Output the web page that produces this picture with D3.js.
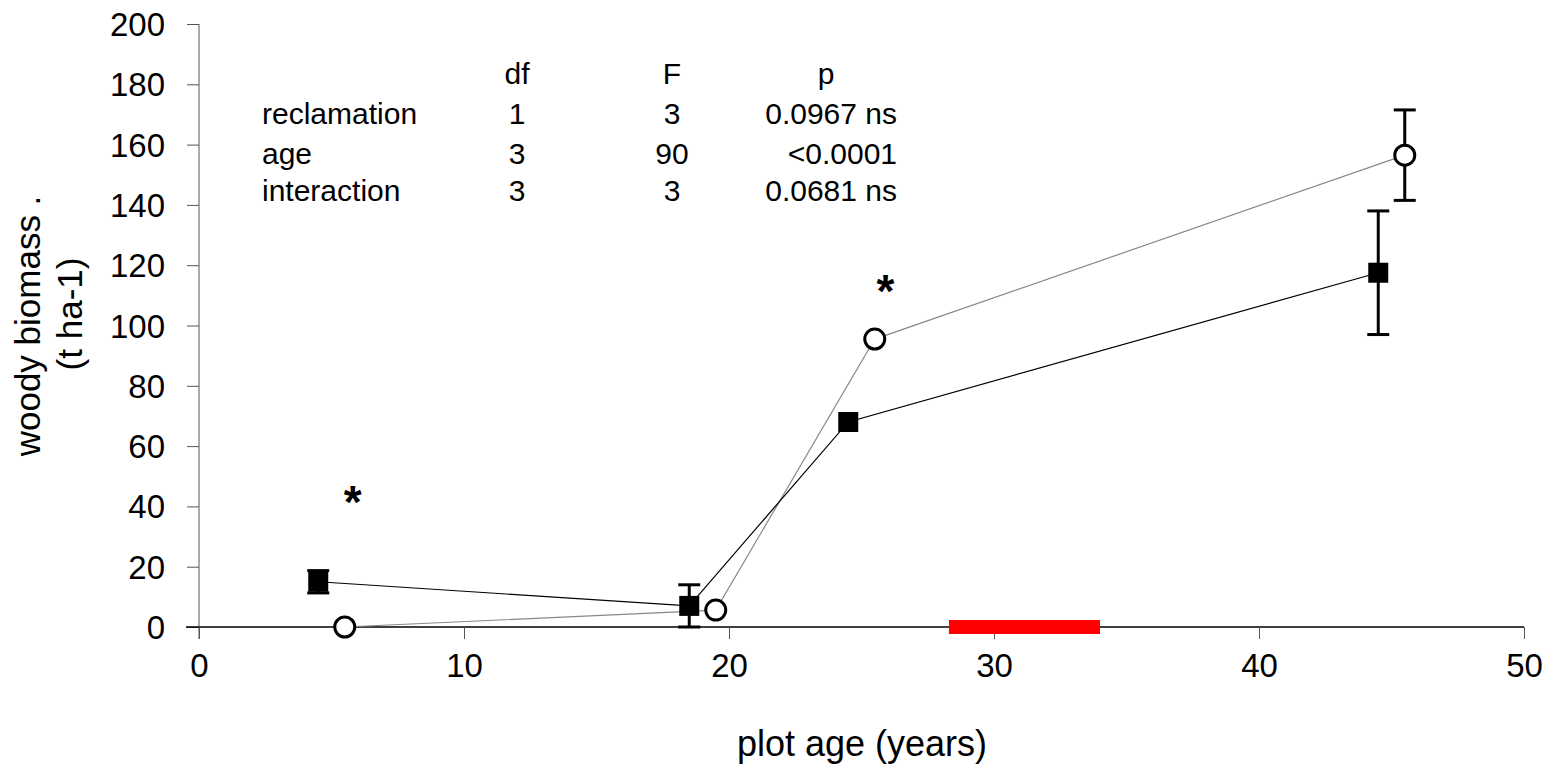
<!DOCTYPE html>
<html>
<head>
<meta charset="utf-8">
<script src="https://cdn.jsdelivr.net/npm/d3@7"></script>
<style>
  body { margin: 0; background: #fff; }
  svg text { font-family: "Liberation Sans", Arial, sans-serif; fill: #000; }
</style>
</head>
<body>
<div id="chart"></div>
<script>
// reclaimed plots (filled squares)
var squareAge  = [4.5, 18.5, 24.5, 44.5];
var squareMass = [15, 7, 68, 117.5];
var squareErr  = [3.7, 7, 0, 20.5];
// unreclaimed plots (open circles)
var circleAge  = [5.5, 19.5, 25.5, 45.5];
var circleMass = [0, 5.6, 95.5, 156.5];
var circleErr  = [0, 0, 0, 15];
// significance stars
var starAge  = [5.8, 25.9];
var starMass = [36, 106];
// red bar on x axis
var barRange = [28.3, 34];

var xTicks = [0, 10, 20, 30, 40, 50];
var yTicks = [0, 20, 40, 60, 80, 100, 120, 140, 160, 180, 200];

// anova table
var tableHead = ["df", "F", "p"];
var tableRows = ["reclamation", "age", "interaction"];
var tableDf   = ["1", "3", "3"];
var tableF    = ["3", "90", "3"];
var tableP    = ["0.0967 ns", "<0.0001", "0.0681 ns"];

var w = 1556, h = 766;
var pLeft = 199, pRight = 1524, pTop = 24, pBottom = 627;

var svg = d3.select("#chart").append("svg")
    .attr("width", w).attr("height", h);

var x = d3.scaleLinear().domain([0, 50]).range([pLeft, pRight]);
var y = d3.scaleLinear().domain([0, 200]).range([pBottom, pTop]);

// y axis
var yAxis = svg.append("g")
    .attr("transform", "translate(" + pLeft + ",0)")
    .call(d3.axisLeft(y).tickValues(yTicks).tickSize(12).tickPadding(22));
yAxis.select(".domain").attr("d", "M0," + pTop + "V" + (pBottom + 12)).attr("stroke", "#555");
yAxis.selectAll(".tick line").attr("stroke", "#555");
yAxis.selectAll("text").style("font-size", "33px").attr("dy", "0.35em");

// x axis
var xAxis = svg.append("g")
    .attr("transform", "translate(0," + pBottom + ")")
    .call(d3.axisBottom(x).tickValues(xTicks).tickSize(12).tickPadding(15));
xAxis.select(".domain").attr("d", "M" + (pLeft - 13) + ",0H" + pRight).attr("stroke", "#000").attr("stroke-width", 1.5);
xAxis.selectAll(".tick line").attr("stroke", "#555");
xAxis.selectAll("text").style("font-size", "33px").attr("dy", "0.71em");

// red bar
svg.append("rect")
    .attr("x", x(barRange[0]))
    .attr("y", pBottom - 7)
    .attr("width", x(barRange[1]) - x(barRange[0]))
    .attr("height", 14)
    .attr("fill", "#ff0000");

var sq = squareAge.map(function(a, i) { return {age: a, mass: squareMass[i], err: squareErr[i]}; });
var ci = circleAge.map(function(a, i) { return {age: a, mass: circleMass[i], err: circleErr[i]}; });

var line = d3.line()
    .x(function(d) { return x(d.age); })
    .y(function(d) { return y(d.mass); });

svg.append("path").datum(ci)
    .attr("d", line).attr("fill", "none")
    .attr("stroke", "#888").attr("stroke-width", 1.2);
svg.append("path").datum(sq)
    .attr("d", line).attr("fill", "none")
    .attr("stroke", "#000").attr("stroke-width", 1.2);

function errorBars(data) {
  var g = svg.append("g").attr("stroke", "#000").attr("stroke-width", 3);
  data.filter(function(d) { return d.err > 0; }).forEach(function(d) {
    var lo = Math.max(0, d.mass - d.err), hi = d.mass + d.err;
    g.append("line").attr("x1", x(d.age)).attr("x2", x(d.age))
      .attr("y1", y(lo)).attr("y2", y(hi));
    g.append("line").attr("x1", x(d.age) - 11).attr("x2", x(d.age) + 11)
      .attr("y1", y(lo)).attr("y2", y(lo));
    g.append("line").attr("x1", x(d.age) - 11).attr("x2", x(d.age) + 11)
      .attr("y1", y(hi)).attr("y2", y(hi));
  });
}
errorBars(sq);
errorBars(ci);

svg.selectAll(".sq").data(sq).enter().append("rect")
    .attr("x", function(d) { return x(d.age) - 10; })
    .attr("y", function(d) { return y(d.mass) - 10; })
    .attr("width", 20).attr("height", 20)
    .attr("fill", "#000");

svg.selectAll(".ci").data(ci).enter().append("circle")
    .attr("cx", function(d) { return x(d.age); })
    .attr("cy", function(d) { return y(d.mass); })
    .attr("r", 10)
    .attr("fill", "#fff").attr("stroke", "#000").attr("stroke-width", 3);

// stars
svg.selectAll(".star").data(starAge).enter().append("text")
    .attr("x", function(d) { return x(d); })
    .attr("y", function(d, i) { return y(starMass[i]); })
    .attr("text-anchor", "middle")
    .style("font-size", "46px").style("font-weight", "bold")
    .text("*");

// table
var rowY = [73, 113, 153, 190];
var colDf = 517, colF = 672, colP = 826;
var tbl = svg.append("g").style("font-size", "30px");
tbl.append("text").attr("x", colDf).attr("y", rowY[0]).attr("dy", "0.35em").attr("text-anchor", "middle").text(tableHead[0]);
tbl.append("text").attr("x", colF).attr("y", rowY[0]).attr("dy", "0.35em").attr("text-anchor", "middle").text(tableHead[1]);
tbl.append("text").attr("x", colP).attr("y", rowY[0]).attr("dy", "0.35em").attr("text-anchor", "middle").text(tableHead[2]);
tableRows.forEach(function(r, i) {
  var yy = rowY[i + 1];
  tbl.append("text").attr("x", 262).attr("y", yy).attr("dy", "0.35em").text(r);
  tbl.append("text").attr("x", colDf).attr("y", yy).attr("dy", "0.35em").attr("text-anchor", "middle").text(tableDf[i]);
  tbl.append("text").attr("x", colF).attr("y", yy).attr("dy", "0.35em").attr("text-anchor", "middle").text(tableF[i]);
  tbl.append("text").attr("x", 897).attr("y", yy).attr("dy", "0.35em").attr("text-anchor", "end").text(tableP[i]);
});

// axis titles
svg.append("text")
    .attr("transform", "translate(28,326) rotate(-90)")
    .attr("text-anchor", "middle").attr("dy", "0.35em")
    .style("font-size", "35px")
    .text("woody biomass .");
svg.append("text")
    .attr("transform", "translate(70,314) rotate(-90)")
    .attr("text-anchor", "middle").attr("dy", "0.35em")
    .style("font-size", "35px")
    .text("(t ha-1)");
svg.append("text")
    .attr("x", 862).attr("y", 743)
    .attr("text-anchor", "middle").attr("dy", "0.35em")
    .style("font-size", "36px")
    .text("plot age (years)");
</script>
</body>
</html>
